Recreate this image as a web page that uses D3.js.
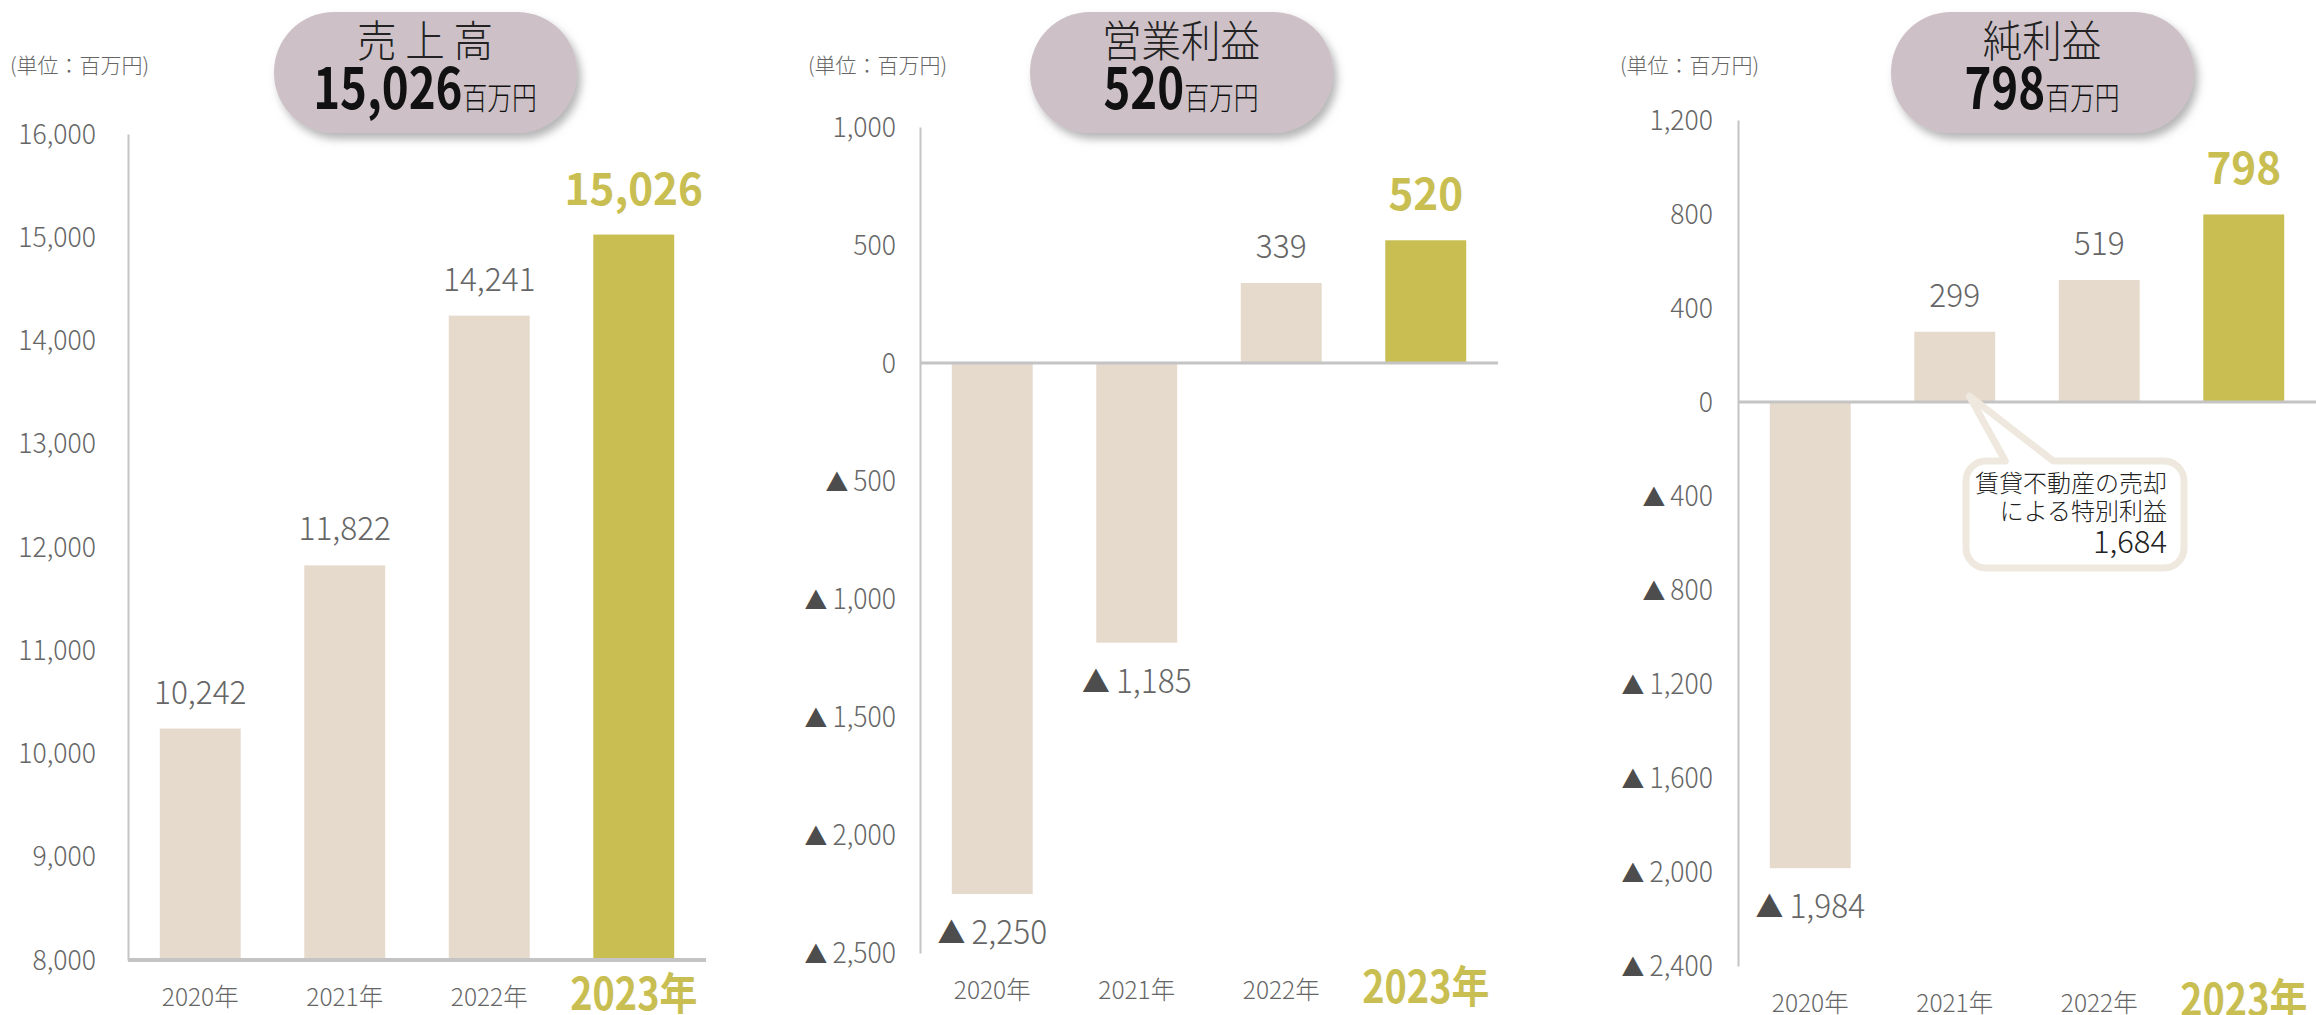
<!DOCTYPE html>
<html>
<head>
<meta charset="utf-8">
<script src="https://cdn.jsdelivr.net/npm/d3@7"></script>
<style>
html, body { margin: 0; padding: 0; background: #fff; overflow: hidden; }
svg { display: block; }
</style>
</head>
<body>
<div id="chart"></div>
<script>
// Three bar charts: sales, operating income, net income (millions of yen)
const width = 2316;
const height = 1015;

const years = ["2020年", "2021年", "2022年", "2023年"];
const sales = [10242, 11822, 14241, 15026];
const operatingIncome = [-2250, -1185, 339, 520];
const netIncome = [-1984, 299, 519, 798];

const salesTicks = [16000, 15000, 14000, 13000, 12000, 11000, 10000, 9000, 8000];
const operatingTicks = [1000, 500, 0, -500, -1000, -1500, -2000, -2500];
const netTicks = [1200, 800, 400, 0, -400, -800, -1200, -1600, -2000, -2400];

const titles = ["売 上 高", "営業利益", "純利益"];
const headlineValues = ["15,026", "520", "798"];
const unitLabel = "(単位：百万円)";
const calloutLines = ["賃貸不動産の売却", "による特別利益", "1,684"];

const beige = "#e6dacd";
const olive = "#c9be52";
const gray = "#666";
const jp = "'Noto Sans CJK JP', sans-serif";
const fmt = d3.format(",");

const svg = d3.select("#chart")
    .append("svg")
    .attr("width", width)
    .attr("height", height);

const defs = svg.append("defs");
defs.append("filter")
    .attr("id", "shadow")
    .attr("x", "-10%").attr("y", "-10%")
    .attr("width", "130%").attr("height", "140%")
    .append("feDropShadow")
    .attr("dx", 4).attr("dy", 6)
    .attr("stdDeviation", 4)
    .attr("flood-color", "#777")
    .attr("flood-opacity", 0.55);

const charts = [
    { values: sales, ticks: salesTicks, base: 8000, axisX: 128, top: 134, bottom: 960, labelGap: 32, pillX: 425, unitX: 10 },
    { values: operatingIncome, ticks: operatingTicks, base: 0, axisX: 920, top: 127, bottom: 953, labelGap: 24, pillX: 1181, unitX: 808 },
    { values: netIncome, ticks: netTicks, base: 0, axisX: 1738, top: 120, bottom: 966, labelGap: 25, pillX: 2042, unitX: 1620 }
];

// negatives are written with a leading ▲ as in Japanese reports
function writeNumber(sel, v, triSize) {
    sel.text(null);
    if (v < 0) {
        sel.append("tspan").attr("fill", "#4d4d4d").attr("font-size", triSize).text("▲ ");
        sel.append("tspan").text(fmt(-v));
    } else {
        sel.text(fmt(v));
    }
}

// narrow the glyphs horizontally around the text anchor
function squish(sel, sx) {
    sel.each(function () {
        const t = d3.select(this);
        const x = +t.attr("x") || 0, y = +t.attr("y") || 0;
        t.attr("x", null).attr("y", null)
            .attr("transform", `translate(${x},${y}) scale(${sx},1)`);
    });
}

charts.forEach((cfg, ci) => {
    const g = svg.append("g");

    const x = d3.scaleBand()
        .domain(years)
        .range([cfg.axisX, cfg.axisX + 578])
        .paddingInner(0.44)
        .paddingOuter(0.22);

    const y = d3.scaleLinear()
        .domain([d3.min(cfg.ticks), d3.max(cfg.ticks)])
        .range([cfg.bottom, cfg.top]);

    // bars
    g.selectAll("rect.bar")
        .data(cfg.values)
        .join("rect")
        .attr("class", "bar")
        .attr("x", (d, i) => x(years[i]))
        .attr("width", x.bandwidth())
        .attr("y", d => y(Math.max(d, cfg.base)))
        .attr("height", d => Math.abs(y(d) - y(cfg.base)))
        .attr("fill", (d, i) => i === 3 ? olive : beige);

    // y axis
    const yAxis = g.append("g")
        .attr("transform", `translate(${cfg.axisX},0)`)
        .call(d3.axisLeft(y).tickValues(cfg.ticks).tickSize(0).tickPadding(cfg.labelGap));
    yAxis.select(".domain")
        .attr("stroke", "#c4c4c4")
        .attr("stroke-width", 2);
    yAxis.selectAll(".tick text")
        .attr("fill", gray)
        .attr("font-family", jp)
        .attr("font-weight", 300)
        .attr("font-size", 28)
        .attr("dy", "0.33em")
        .each(function (d) { writeNumber(d3.select(this), d, 24); })
        .call(squish, 0.95);

    // base line (8,000 for sales, zero otherwise)
    g.append("line")
        .attr("x1", cfg.axisX)
        .attr("x2", cfg.axisX + 578)
        .attr("y1", y(cfg.base))
        .attr("y2", y(cfg.base))
        .attr("stroke", "#c4c4c4")
        .attr("stroke-width", ci === 0 ? 4 : 3);

    // value labels
    g.selectAll("text.val")
        .data(cfg.values)
        .join("text")
        .attr("class", "val")
        .attr("text-anchor", "middle")
        .attr("x", (d, i) => x(years[i]) + x.bandwidth() / 2)
        .attr("y", (d, i) => d < cfg.base ? y(d) + 50 : y(d) - (i === 3 ? 30 : 25))
        .attr("font-family", jp)
        .attr("font-size", (d, i) => i === 3 ? 44 : 33)
        .attr("font-weight", (d, i) => i === 3 ? "bold" : 300)
        .attr("fill", (d, i) => i === 3 ? olive : gray)
        .each(function (d) { writeNumber(d3.select(this), d, 29); })
        .call(squish, 0.96);

    // year labels
    g.selectAll("text.year")
        .data(years)
        .join("text")
        .attr("class", "year")
        .attr("text-anchor", "middle")
        .attr("x", d => x(d) + x.bandwidth() / 2)
        .attr("y", (d, i) => cfg.bottom + (i === 3 ? 50 : 46))
        .attr("font-family", jp)
        .attr("font-size", (d, i) => i === 3 ? 44 : 25)
        .attr("font-weight", (d, i) => i === 3 ? "bold" : 300)
        .attr("fill", (d, i) => i === 3 ? olive : gray)
        .text(d => d)
        .each(function (d, i) { squish(d3.select(this), i === 3 ? 0.86 : 0.98); });

    // unit label
    g.append("text")
        .attr("x", cfg.unitX)
        .attr("y", 73)
        .attr("font-family", jp)
        .attr("font-weight", 300)
        .attr("font-size", 21)
        .attr("fill", gray)
        .text(unitLabel);

    // title pill
    const pill = g.append("g").attr("transform", `translate(${cfg.pillX},12)`);
    pill.append("rect")
        .attr("x", -151)
        .attr("width", 303)
        .attr("height", 121)
        .attr("rx", 60)
        .attr("fill", "#cdc1c7")
        .attr("filter", "url(#shadow)");
    pill.append("text")
        .attr("text-anchor", "middle")
        .attr("y", 45)
        .attr("font-family", jp)
        .attr("font-weight", 300)
        .attr("font-size", 43)
        .attr("fill", "#222")
        .text(titles[ci])
        .call(squish, 0.92);
    const head = pill.append("text")
        .attr("text-anchor", "middle")
        .attr("y", 97)
        .attr("fill", "#111")
        .attr("font-family", jp);
    head.append("tspan")
        .attr("font-weight", "bold")
        .attr("font-size", 57)
        .text(headlineValues[ci]);
    head.append("tspan")
        .attr("font-weight", 300)
        .attr("font-size", 31)
        .text("百万円");
    head.call(squish, 0.8);

    // callout for the special gain in net income
    if (ci === 2) {
        const tipX = x(years[1]) + x.bandwidth() * 0.68;
        const tipY = y(0) - 6;
        const left = 1966, right = 2184, top = 461, bottom = 568, r = 20;
        const p = d3.path();
        p.moveTo(left + r, top);
        p.lineTo(tipX + 36, top);
        p.lineTo(tipX, tipY);
        p.lineTo(tipX + 84, top);
        p.lineTo(right - r, top);
        p.arcTo(right, top, right, top + r, r);
        p.lineTo(right, bottom - r);
        p.arcTo(right, bottom, right - r, bottom, r);
        p.lineTo(left + r, bottom);
        p.arcTo(left, bottom, left, bottom - r, r);
        p.lineTo(left, top + r);
        p.arcTo(left, top, left + r, top, r);
        p.closePath();
        g.append("path")
            .attr("d", p.toString())
            .attr("fill", "#fff")
            .attr("stroke", "#efe8df")
            .attr("stroke-width", 7)
            .attr("stroke-linejoin", "round");

        g.selectAll("text.callout")
            .data(calloutLines)
            .join("text")
            .attr("class", "callout")
            .attr("text-anchor", "end")
            .attr("x", 2167)
            .attr("y", (d, i) => [492, 520, 553][i])
            .attr("font-family", jp)
            .attr("font-weight", 300)
            .attr("font-size", (d, i) => i === 2 ? 31 : 24)
            .attr("fill", "#222")
            .text(d => d);
    }
});
</script>
</body>
</html>
